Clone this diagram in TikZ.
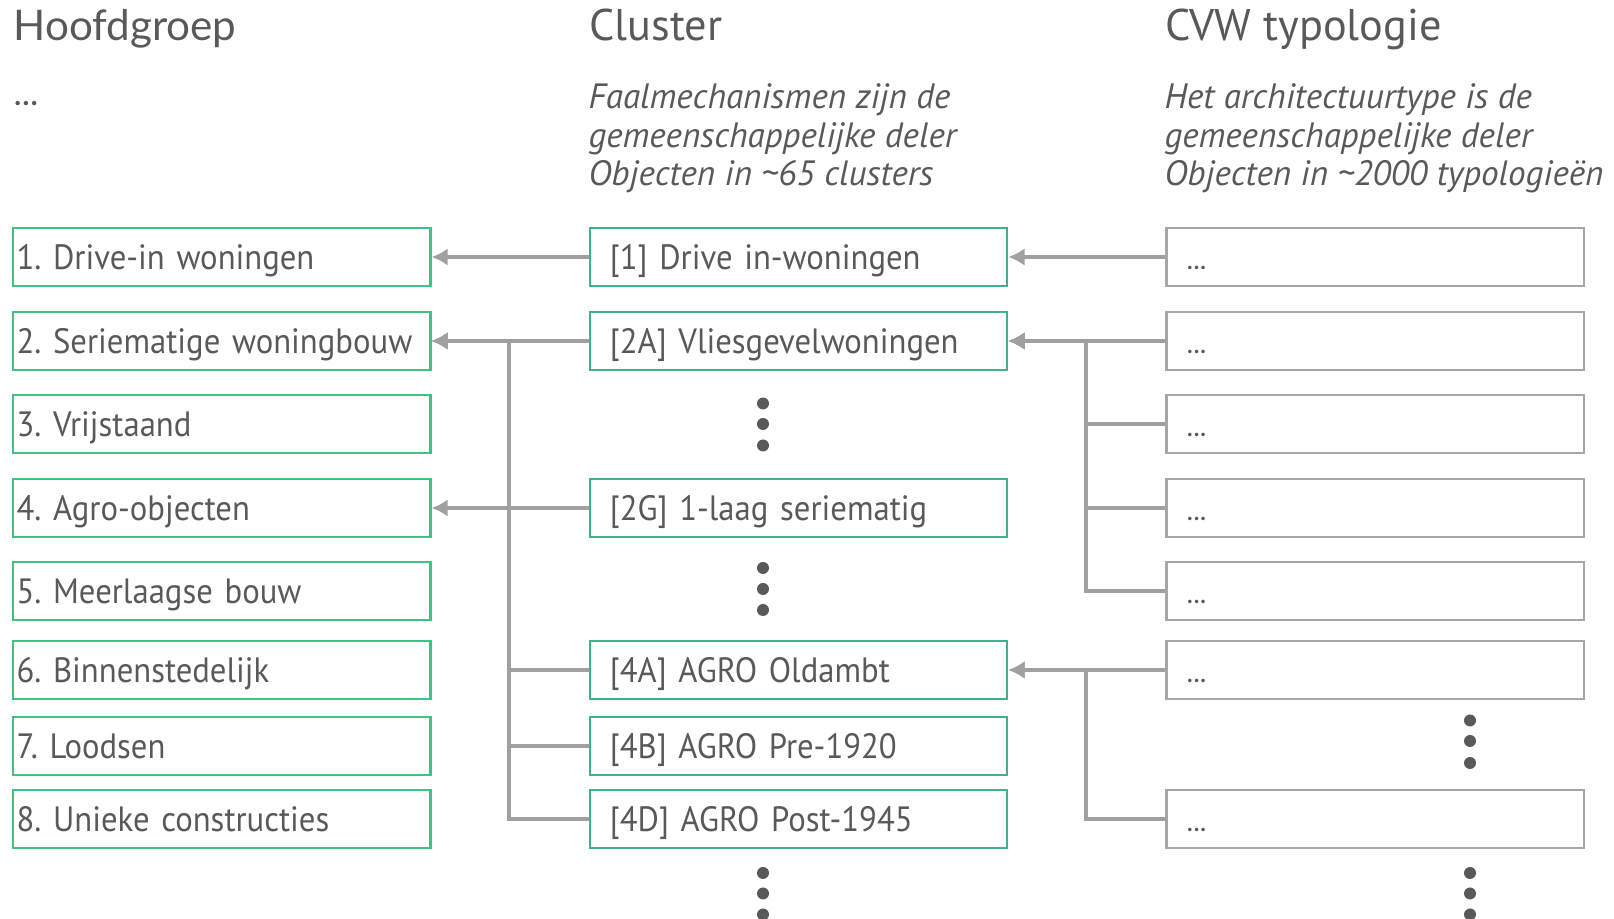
\documentclass[tikz,border=0pt]{standalone}
\usepackage{fontspec}
\setmainfont{PT Sans}
\newfontfamily\smal[FakeStretch=0.93]{PT Sans}
\newfontfamily\latofont{Lato}
\usetikzlibrary{arrows,arrows.meta,positioning}
\definecolor{txtgrey}{HTML}{595959}
\definecolor{linegrey}{HTML}{A0A0A0}
\definecolor{hgreen}{HTML}{3DC383}
\definecolor{cgreen}{HTML}{40B08E}
\definecolor{boxgrey}{HTML}{A6A6A6}
\newcommand{\hgstrut}{\rule[-3pt]{0pt}{13pt}}
\newcommand{\tystrut}{\rule[-2pt]{0pt}{11pt}}
\tikzstyle{hg} = [rectangle, draw=hgreen, line width=0.7pt, text=txtgrey,
    text width=4.10cm, inner xsep=0.035cm, inner ysep=0pt, align=left,
    minimum height=0.575cm, font=\smal\frenchspacing\fontsize{10}{12}\selectfont,
    execute at begin node=\hgstrut]
\tikzstyle{cl} = [hg, draw=cgreen, text width=3.77cm, inner xsep=0.2cm]
\tikzstyle{ty} = [hg, draw=boxgrey, text width=3.77cm, inner xsep=0.2cm,
    font=\latofont\fontsize{8}{10}\selectfont, execute at begin node=\tystrut]
\tikzstyle{kop} = [anchor=base west, inner sep=0pt, text=txtgrey,
    font=\fontsize{12.6}{14}\selectfont]
\tikzstyle{sub} = [anchor=north west, inner sep=0pt, align=left, text=txtgrey,
    font=\itshape\fontsize{10}{11}\selectfont]
\tikzstyle{stip} = [fill=txtgrey, draw=none]

\begin{document}
\begin{tikzpicture}[->,>={Latex[length=4.6pt,width=5pt]},x=0.01cm,y=-0.01cm,
                    node distance=1.57cm,color=linegrey,line width=0.9pt]
  \useasboundingbox (0,0) rectangle (1614,919);

  % koppen
  \node[kop, font=\latofont\fontsize{12}{14}\selectfont] (kH) at (12,41) {Hoofdgroep};
  \node[kop, font=\latofont\fontsize{10}{12}\selectfont] (dH) at (12,106) {...};
  \node[kop] (kC) at (588,41) {Cluster};
  \node[kop] (kT) at (1164,41) {CVW typologie};
  \node[sub] (sC) at (587,82) {Faalmechanismen zijn de\\gemeenschappelijke deler\\Objecten in \textasciitilde65 clusters};
  \node[sub] (sT) at (1163,82) {Het architectuurtype is de\\gemeenschappelijke deler\\Objecten in \textasciitilde2000 typologieën};

  % hoofdgroepen
  \node[hg] (H1) at (221.7,257) {1. Drive-in woningen};
  \node[hg] (H2) at (221.7,341) {2. Seriematige woningbouw};
  \node[hg] (H3) at (221.7,424) {3. Vrijstaand};
  \node[hg] (H4) at (221.7,508) {4. Agro-objecten};
  \node[hg] (H5) at (221.7,591) {5. Meerlaagse bouw};
  \node[hg] (H6) at (221.7,670) {6. Binnenstedelijk};
  \node[hg] (H7) at (221.7,746) {7. Loodsen};
  \node[hg] (H8) at (221.7,819) {8. Unieke constructies};

  % clusters
  \node[cl] (C1)  [right=of H1] {[1] Drive in-woningen};
  \node[cl] (C2A) [right=of H2] {[2A] Vliesgevelwoningen};
  \node[cl] (C2G) [right=of H4] {[2G] 1-laag seriematig};
  \node[cl] (C4A) [right=of H6] {[4A] AGRO Oldambt};
  \node[cl] (C4B) [right=of H7] {[4B] AGRO Pre-1920};
  \node[cl] (C4D) [right=of H8] {[4D] AGRO Post-1945};

  % typologieen
  \node[ty] (T1) [right=of C1]  {...};
  \node[ty] (T2) [right=of C2A] {...};
  \node[ty] (T3) [right=1.57cm of H3.east -| C2A.east, anchor=west] {...};
  \node[ty] (T4) [right=of C2G] {...};
  \node[ty] (T5) [right=1.57cm of H5.east -| C2G.east, anchor=west] {...};
  \node[ty] (T6) [right=of C4A] {...};
  \node[ty] (T8) [right=of C4D] {...};

  \coordinate (lbus) at (509,0);
  \coordinate (rbus) at (1086,0);

  \path (C1) edge (H1)
        (C2A) edge (H2)
        (C2G) edge (H4)
        (T1) edge (C1)
        (T2) edge (C2A)
        (T6) edge (C4A);
  \draw (C4A.west) -| (lbus |- H2.east) -- (H2.east);
  \draw (C4B.west) -| (lbus |- H2.east) -- (H2.east);
  \draw (C4D.west) -| (lbus |- H2.east) -- (H2.east);
  \draw (T3.west) -| (rbus |- C2A.east) -- (C2A.east);
  \draw (T4.west) -| (rbus |- C2A.east) -- (C2A.east);
  \draw (T5.west) -| (rbus |- C2A.east) -- (C2A.east);
  \draw (T8.west) -| (rbus |- C4A.east) -- (C4A.east);

  % stippen
  \foreach \y in {403.5,424,445.5,568,589,610,873,893.5,914.5}
    \fill[stip] (763,\y) circle (6);
  \foreach \y in {720.5,741,763,873,893.5,914.5}
    \fill[stip] (1470,\y) circle (6);
\end{tikzpicture}
\end{document}
